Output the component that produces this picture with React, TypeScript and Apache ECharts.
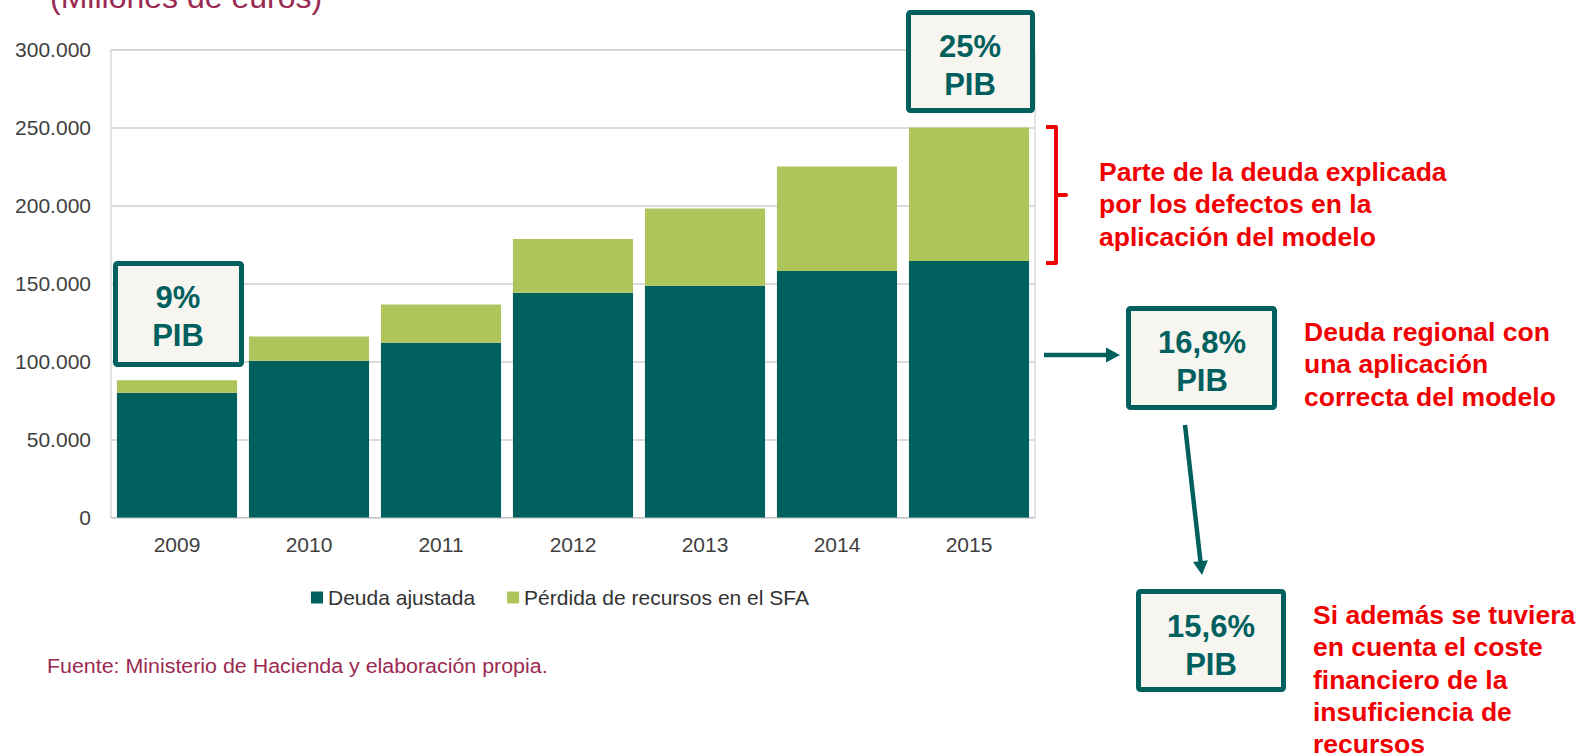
import React, { useEffect, useRef } from "react";
import * as echarts from "echarts";

const years = ["2009", "2010", "2011", "2012", "2013", "2014", "2015"];
const deudaAjustada = [80000, 100500, 112000, 144000, 148500, 158000, 164500];
const perdidaSFA = [8000, 15500, 24500, 34500, 49500, 67000, 85500];
const seriesNames = ["Deuda ajustada", "Pérdida de recursos en el SFA"];
const yTicks = { min: 0, max: 300000, interval: 50000 };

const TEAL = "#00605E";
const GREEN = "#AEC55C";
const RED = "#F00000";
const MAROON = "#9B2A52";
const BOXFILL = "#F7F5F0";
const FONT = "'Liberation Sans', Arial, sans-serif";

function box(x: number, y: number, w: number, h: number, label: string, cx: number, cy: number) {
  return [
    {
      type: "rect",
      shape: { x, y, width: w, height: h, r: 2 },
      style: { fill: BOXFILL, stroke: TEAL, lineWidth: 5 },
      z: 10,
    },
    {
      type: "text",
      x: cx,
      y: cy,
      style: {
        text: label + "\nPIB",
        fill: TEAL,
        font: `bold 31px ${FONT}`,
        align: "center",
        verticalAlign: "middle",
        lineHeight: 38,
      },
      z: 11,
    },
  ];
}

function arrow(x1: number, y1: number, x2: number, y2: number) {
  const dx = x2 - x1;
  const dy = y2 - y1;
  const len = Math.sqrt(dx * dx + dy * dy);
  const ux = dx / len;
  const uy = dy / len;
  const hl = 14;
  const hw = 7.5;
  const bx = x2 - ux * hl;
  const by = y2 - uy * hl;
  return [
    {
      type: "line",
      shape: { x1, y1, x2: bx + ux * 2, y2: by + uy * 2 },
      style: { stroke: TEAL, lineWidth: 4.5 },
      z: 10,
    },
    {
      type: "polygon",
      shape: {
        points: [
          [x2, y2],
          [bx - uy * hw, by + ux * hw],
          [bx + uy * hw, by - ux * hw],
        ],
      },
      style: { fill: TEAL },
      z: 10,
    },
  ];
}

function redText(x: number, y: number, lines: string[]) {
  return {
    type: "text",
    x,
    y,
    style: {
      text: lines.join("\n"),
      fill: RED,
      font: `bold 26.5px ${FONT}`,
      align: "left",
      verticalAlign: "top",
      lineHeight: 32.3,
    },
    z: 10,
  };
}

export default function App() {
  const ref = useRef<HTMLDivElement>(null);
  useEffect(() => {
    document.body.style.margin = "0";
    const chart = echarts.init(ref.current!, null, { renderer: "svg" });
    chart.setOption({
      animation: false,
      backgroundColor: "#FFFFFF",
      textStyle: { fontFamily: FONT },
      grid: {
        left: 111,
        right: 550,
        top: 49.5,
        bottom: 238.5,
        show: true,
        borderColor: "#C8C8C8",
        borderWidth: 1,
        containLabel: false,
      },
      legend: {
        left: 306,
        top: 582,
        itemWidth: 12,
        itemHeight: 12,
        itemGap: 32,
        icon: "rect",
        textStyle: { fontSize: 21, color: "#333333", fontFamily: FONT },
        data: seriesNames,
      },
      xAxis: {
        type: "category",
        data: years,
        axisLine: { show: true, lineStyle: { color: "#C0C0C0" } },
        axisTick: { show: false },
        axisLabel: { color: "#404040", fontSize: 21, margin: 16, fontFamily: FONT },
      },
      yAxis: {
        type: "value",
        min: yTicks.min,
        max: yTicks.max,
        interval: yTicks.interval,
        axisLine: { show: false },
        axisTick: { show: false },
        splitLine: { lineStyle: { color: "#D0D0D0", width: 1.5 } },
        axisLabel: {
          color: "#404040",
          fontSize: 21,
          margin: 20,
          fontFamily: FONT,
          formatter: (v: number) => (v === 0 ? "0" : (v / 1000).toFixed(0) + ".000"),
        },
      },
      series: [
        {
          name: seriesNames[0],
          type: "bar",
          stack: "total",
          data: deudaAjustada,
          barCategoryGap: "9%",
          itemStyle: { color: TEAL },
        },
        {
          name: seriesNames[1],
          type: "bar",
          stack: "total",
          data: perdidaSFA,
          barCategoryGap: "9%",
          itemStyle: { color: GREEN },
        },
      ],
      graphic: [
        {
          type: "text",
          x: 50,
          y: -3.5,
          style: {
            text: "(Millones de euros)",
            fill: MAROON,
            font: `32px ${FONT}`,
            align: "left",
            verticalAlign: "middle",
          },
        },
        {
          type: "text",
          x: 47,
          y: 665.5,
          scaleX: 1.07,
          style: {
            text: "Fuente: Ministerio de Hacienda y elaboración propia.",
            fill: MAROON,
            font: `20px ${FONT}`,
            align: "left",
            verticalAlign: "middle",
          },
        },
        ...box(115.5, 263.5, 126, 101, "9%", 178, 316),
        ...box(908.5, 12.5, 124, 98, "25%", 970, 65),
        ...box(1128.5, 308.5, 146, 99, "16,8%", 1202, 361),
        ...box(1138.5, 591.5, 145, 98, "15,6%", 1211, 645),
        ...arrow(1044, 355, 1120, 355),
        ...arrow(1185, 425, 1202, 575),
        {
          type: "polyline",
          shape: {
            points: [
              [1046, 127],
              [1056, 127],
              [1056, 195],
              [1066, 195],
              [1056, 195],
              [1056, 263],
              [1046, 263],
            ],
          },
          style: { stroke: RED, lineWidth: 4, fill: null, lineJoin: "round" },
          z: 10,
        },
        redText(1099, 156, ["Parte de la deuda explicada", "por los defectos en la", "aplicación del modelo"]),
        redText(1304, 316, ["Deuda regional con", "una aplicación", "correcta del modelo"]),
        redText(1313, 599, [
          "Si además se tuviera",
          "en cuenta el coste",
          "financiero de la",
          "insuficiencia de",
          "recursos",
        ]),
      ],
    });
    return () => chart.dispose();
  }, []);
  return (
    <div
      ref={ref}
      style={{ position: "fixed", left: 0, top: 0, width: 1585, height: 756 }}
    />
  );
}
